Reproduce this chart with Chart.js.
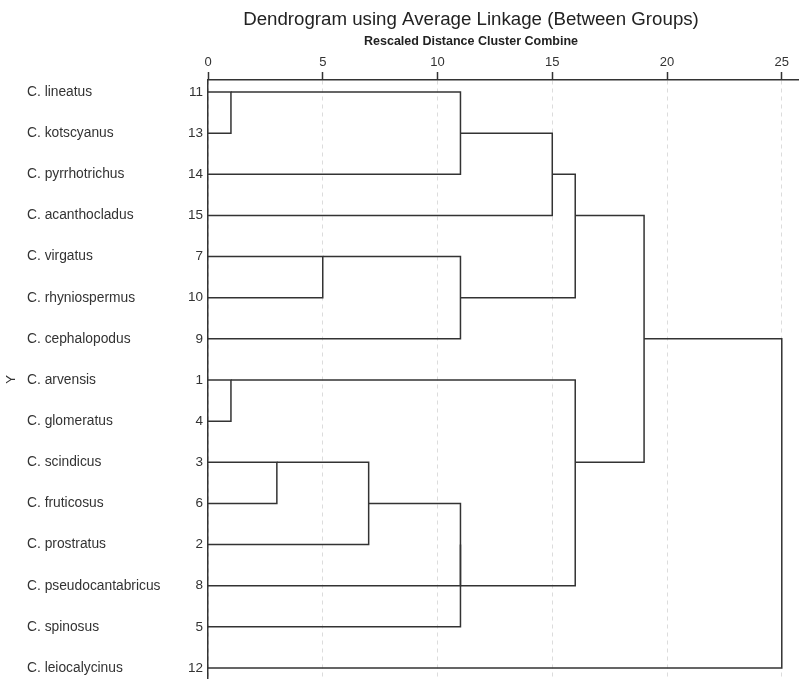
<!DOCTYPE html>
<html>
<head>
<meta charset="utf-8">
<script src="https://cdn.jsdelivr.net/npm/chart.js@4.4.0/dist/chart.umd.min.js"></script>
<style>
  body { margin: 0; background: #fff; }
  #wrap { width: 799px; height: 679px; position: relative; }
</style>
</head>
<body>
<div id="wrap"><canvas id="dendro"></canvas></div>
<script>
// leaves, top to bottom
const leafNames = [
  'C. lineatus', 'C. kotscyanus', 'C. pyrrhotrichus', 'C. acanthocladus',
  'C. virgatus', 'C. rhyniospermus', 'C. cephalopodus', 'C. arvensis',
  'C. glomeratus', 'C. scindicus', 'C. fruticosus', 'C. prostratus',
  'C. pseudocantabricus', 'C. spinosus', 'C. leiocalycinus'
];
const leafIds = ['11', '13', '14', '15', '7', '10', '9', '1', '4', '3', '6', '2', '8', '5', '12'];

// merges: node 15 onward. children are leaf rows (0-14) or earlier merge nodes
const mergeLeft   = [0, 15, 16, 4, 18, 17, 7, 9, 22, 23, 24, 21, 20, 27];
const mergeRight  = [1,  2,  3, 5,  6, 19, 8, 10, 11, 12, 13, 25, 26, 14];
const mergeHeight = [1, 11, 15, 5, 11, 16, 1,  3,  7, 11, 11, 16, 19, 25];

const xTicks = [0, 5, 10, 15, 20, 25];

const titleText = 'Dendrogram using Average Linkage (Between Groups)';
const subtitleText = 'Rescaled Distance Cluster Combine';

// row / height of every node
let nodeRow = leafNames.map((n, i) => i);
let nodeHeight = leafNames.map(() => 0);
mergeLeft.forEach((a, i) => {
    let b = mergeRight[i];
    nodeRow.push(Math.floor((nodeRow[a] + nodeRow[b]) / 2));
    nodeHeight.push(mergeHeight[i]);
});

// one bracket per merge
const datasets = mergeLeft.map((a, i) => {
    let b = mergeRight[i];
    let h = mergeHeight[i];
    return {
        data: [
            {x: nodeHeight[a], y: nodeRow[a]},
            {x: h, y: nodeRow[a]},
            {x: h, y: nodeRow[b]},
            {x: nodeHeight[b], y: nodeRow[b]}
        ],
        borderColor: '#333',
        borderWidth: 1.5,
        pointRadius: 0,
        tension: 0,
        fill: false
    };
});

const rowTicks = (scale) => {
    scale.ticks = leafNames.map((n, i) => ({value: i}));
};

// fixed width, and no extra room for the end labels so the plot runs to the bottom
const fitLeft = (w) => (scale) => {
    scale.width = w;
    scale.paddingTop = 0;
    scale.paddingBottom = 0;
};

// SPSS puts the heading a bit left of the plot centre
const headingPlugin = {
    id: 'heading',
    afterDraw(chart) {
        const ctx = chart.ctx;
        const cx = 471;
        ctx.save();
        ctx.textAlign = 'center';
        ctx.textBaseline = 'middle';
        ctx.fillStyle = '#222';
        ctx.font = '18.7px "Liberation Sans", Arial, sans-serif';
        ctx.fillText(titleText, cx, 20);
        ctx.font = 'bold 12.5px "Liberation Sans", Arial, sans-serif';
        ctx.fillText(subtitleText, cx, 42);
        ctx.restore();
    }
};

Chart.defaults.font.family = '"Liberation Sans", Arial, sans-serif';
Chart.defaults.color = '#333';

const yRange = {min: -0.292, max: 14.267, reverse: true};

new Chart(document.getElementById('dendro'), {
    type: 'line',
    data: { datasets: datasets },
    plugins: [headingPlugin],
    options: {
        responsive: true,
        maintainAspectRatio: false,
        animation: false,
        layout: { padding: 0 },
        plugins: {
            legend: { display: false },
            tooltip: { enabled: false }
        },
        scales: {
            x: {
                type: 'linear',
                position: 'top',
                min: 0,
                max: 25.75,
                afterBuildTicks: (scale) => { scale.ticks = xTicks.map(v => ({value: v})); },
                afterFit: (scale) => { scale.height = 80; },
                ticks: { font: { size: 13 }, padding: 2, color: '#333' },
                grid: { color: '#dcdcdc', lineWidth: 1, tickLength: 8, tickColor: '#333', tickWidth: 1.5 },
                border: { display: true, color: '#333', width: 1.5, dash: [4, 4] }
            },
            y: {
                type: 'linear',
                position: 'left',
                weight: 0,
                ...yRange,
                afterBuildTicks: rowTicks,
                afterFit: fitLeft(28),
                ticks: {
                    font: { size: 13.5 },
                    padding: 5,
                    callback: (v) => leafIds[v]
                },
                grid: { display: false, drawTicks: false },
                border: { display: true, color: '#333', width: 1.5 }
            },
            ySpecies: {
                type: 'linear',
                position: 'left',
                weight: 1,
                ...yRange,
                afterBuildTicks: rowTicks,
                afterFit: fitLeft(153),
                ticks: {
                    font: { size: 13.8 },
                    crossAlign: 'far',
                    callback: (v) => leafNames[v]
                },
                grid: { display: false, drawTicks: false },
                border: { display: false }
            },
            yTitle: {
                type: 'linear',
                position: 'left',
                weight: 2,
                ...yRange,
                afterFit: fitLeft(27),
                ticks: { display: false },
                title: {
                    display: true,
                    text: 'Y',
                    font: { size: 13 },
                    padding: { top: 4, bottom: 0 }
                },
                grid: { display: false, drawTicks: false },
                border: { display: false }
            }
        }
    }
});
</script>
</body>
</html>
